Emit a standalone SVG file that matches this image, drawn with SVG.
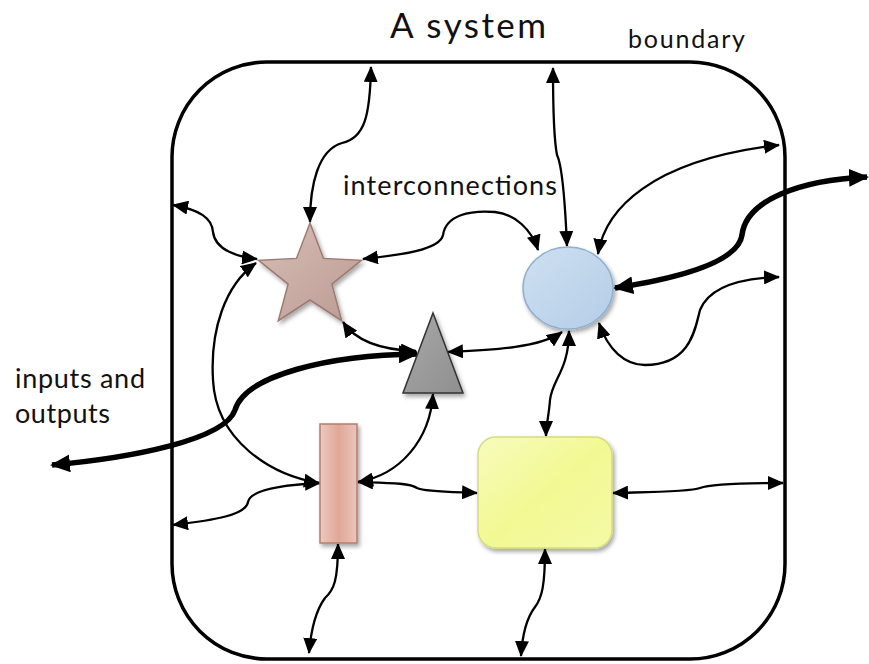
<svg xmlns="http://www.w3.org/2000/svg" width="869" height="664" viewBox="0 0 869 664">
<defs>
<style>
.lbl{font-family:Lato,"Open Sans","Liberation Sans",sans-serif;fill:#111}
.c{fill:none;stroke:#000;stroke-width:2.3;marker-start:url(#ah);marker-end:url(#ah)}
.t{fill:none;stroke:#000;stroke-width:5.5;marker-start:url(#ahb);marker-end:url(#ahb)}
.bd{fill:none;stroke:#000;stroke-width:3.5}
</style>
<marker id="ah" markerUnits="userSpaceOnUse" markerWidth="16" markerHeight="14" refX="15" refY="7" orient="auto-start-reverse"><path d="M0,0 L16,7 L0,14 z" fill="#000"/></marker>
<marker id="ahb" markerUnits="userSpaceOnUse" markerWidth="20" markerHeight="18" refX="18" refY="9" orient="auto-start-reverse"><path d="M0,0 L20,9 L0,18 z" fill="#000"/></marker>
<filter id="sh" x="-20%" y="-20%" width="150%" height="150%"><feDropShadow dx="2" dy="3" stdDeviation="2" flood-color="#000" flood-opacity="0.35"/></filter>
<linearGradient id="gStar" x1="0" y1="0" x2="1" y2="1"><stop offset="0" stop-color="#d6beb7"/><stop offset="1" stop-color="#bc9b92"/></linearGradient>
<linearGradient id="gCirc" x1="0" y1="0" x2="1" y2="1"><stop offset="0" stop-color="#cfe0f1"/><stop offset="1" stop-color="#b3cde7"/></linearGradient>
<linearGradient id="gYel" x1="0" y1="0" x2="1" y2="1"><stop offset="0" stop-color="#f7fbbd"/><stop offset="0.5" stop-color="#f2f993"/><stop offset="1" stop-color="#f4faa6"/></linearGradient>
<linearGradient id="gPink" x1="0" y1="0" x2="1" y2="0"><stop offset="0" stop-color="#ecc9c1"/><stop offset="0.5" stop-color="#e1a797"/><stop offset="1" stop-color="#ebc4ba"/></linearGradient>
<linearGradient id="gTri" x1="0" y1="0" x2="1" y2="1"><stop offset="0" stop-color="#a8a8a8"/><stop offset="1" stop-color="#8f8f8f"/></linearGradient>
</defs>
<rect width="869" height="664" fill="#fff"/>

<g id="boundary"><rect class="bd" x="172" y="62" width="613" height="597" rx="95" ry="95"/></g>

<g id="labels">
<text class="lbl" x="390" y="38" font-size="35" textLength="156">A system</text>
<text class="lbl" x="628" y="48" font-size="25" textLength="117">boundary</text>
<text class="lbl" x="343" y="195" font-size="27" textLength="214">interconnections</text>
<text class="lbl" x="15" y="388" font-size="27" textLength="130">inputs and</text>
<text class="lbl" x="15" y="423" font-size="27" textLength="95">outputs</text>
</g>

<g id="connectors">
<path class="c" d="M371,67 C370,115 365,138 342,143 C318,150 310,185 310,222"/>
<path class="c" d="M553,68 C553,110 554,140 557,155 C562,165 565,200 567,246"/>
<path class="c" d="M173,205 C200,210 212,218 213,232 C215,250 238,257 257,259"/>
<path class="c" d="M363,259 C400,255 440,250 443,235 C446,215 470,210 495,212 C515,214 532,230 538,250"/>
<path class="c" d="M598,254 C605,210 650,160 779,145"/>
<path class="t" d="M615,288 C680,278 738,262 742,235 C746,200 800,180 867,177"/>
<path class="c" d="M599,323 C608,350 625,365 645,365 C690,365 695,330 700,310 C710,285 745,278 779,277"/>
<path class="c" d="M448,352 C490,350 540,348 562,332"/>
<path class="c" d="M569,331 C569,370 552,380 550,400 C549,415 546,425 546,436"/>
<path class="c" d="M343,322 C355,340 380,350 416,351"/>
<path class="t" d="M52,465 C130,458 225,440 235,410 C245,375 330,355 417,354"/>
<path class="c" d="M433,394 C430,440 400,475 358,482"/>
<path class="c" d="M256,263 C225,285 210,330 213,380 C216,440 270,475 319,483"/>
<path class="c" d="M320,483 C280,485 250,490 248,502 C246,515 215,520 173,525"/>
<path class="c" d="M358,482 C390,483 410,483 417,488 C425,492 455,492 477,493"/>
<path class="c" d="M613,493 C650,492 690,492 700,488 C710,484 750,483 783,483"/>
<path class="c" d="M338,544 C338,580 334,590 325,598 C316,610 311,630 309,653"/>
<path class="c" d="M545,549 C545,585 542,598 535,607 C525,620 522,640 521,656"/>
</g>

<g id="star"><polygon points="310,223 323.5,258.4 361.4,260.3 331.9,284.1 341.7,320.7 310,300 278.3,320.7 288.1,284.1 258.6,260.3 296.5,258.4" fill="url(#gStar)" stroke="#9c7a70" stroke-width="1.5" filter="url(#sh)"/></g>
<g id="circle"><ellipse cx="568" cy="288" rx="45" ry="41" fill="url(#gCirc)" stroke="#8fb0cf" stroke-width="1.5" filter="url(#sh)"/></g>
<g id="triangle"><polygon points="433,313 463,393 403,393" fill="url(#gTri)" stroke="#333" stroke-width="1.5" filter="url(#sh)"/></g>
<g id="pinkrect"><rect x="320" y="424" width="37" height="119" fill="url(#gPink)" stroke="#b37e6f" stroke-width="1.5" filter="url(#sh)"/></g>
<g id="yellowbox"><rect x="478" y="437" width="134" height="111" rx="18" ry="18" fill="url(#gYel)" stroke="#d4dc80" stroke-width="1.5" filter="url(#sh)"/></g>
</svg>
